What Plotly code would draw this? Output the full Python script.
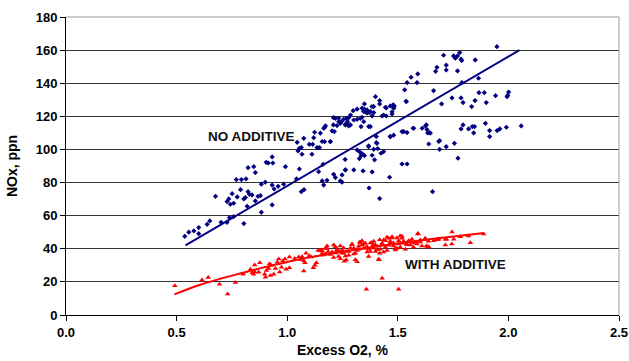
import plotly.graph_objects as go

# ---- data ----
blue_pts = [
(0.537,47.5),(0.555,50.0),(0.578,50.8),(0.600,52.8),(0.600,49.1),(0.638,54.8),(0.650,56.8),(0.676,71.7),
(0.701,56.0),(0.728,56.0),(0.736,70.1),(0.728,68.5),(0.743,66.9),(0.751,73.3),(0.758,67.5),(0.774,71.3),
(0.770,81.8),(0.793,81.8),(0.814,82.2),(0.823,89.0),(0.849,89.6),(0.856,86.0),(0.789,75.7),(0.804,70.1),
(0.811,70.9),(0.823,74.5),(0.829,72.9),(0.819,65.7),(0.841,72.5),(0.856,68.9),(0.868,71.7),(0.879,72.1),
(0.883,79.0),(0.901,80.2),(0.905,92.2),(0.914,91.8),(0.932,95.5),(0.935,91.8),(0.932,78.5),(0.941,76.1),
(0.959,77.7),(0.984,79.0),(0.992,89.6),(0.883,62.0),(0.804,55.2),(0.932,66.5),(0.739,58.8),(0.758,59.4),
(1.042,82.2),(1.055,88.2),(1.064,74.5),(1.076,75.7),(1.045,104.3),(1.055,100.7),(1.064,101.1),(1.067,97.1),
(1.049,99.1),(1.075,106.7),(1.100,103.1),(1.112,97.1),(1.115,103.1),(1.120,107.1),(1.124,110.4),(1.135,101.1),
(1.146,101.1),(1.142,86.6),(1.162,91.0),(1.158,81.0),(1.165,78.5),(1.180,81.4),(1.169,113.2),(1.169,104.7),
(1.195,104.7),(1.203,111.2),(1.209,114.8),(1.210,85.0),(1.218,83.0),(1.225,114.4),(1.240,81.0),(1.248,84.6),
(1.263,87.6),(1.209,119.2),(1.218,118.8),(1.233,118.8),(1.245,116.8),(1.255,118.2),(1.263,115.2),(1.270,115.8),
(1.278,119.2),
(1.948,162.1),(1.707,156.9),(1.752,156.5),(1.760,155.1),(1.780,158.5),(1.770,156.5),(1.786,154.5),(1.789,153.7),
(1.850,154.1),(1.677,149.6),(1.671,147.2),(1.719,150.9),(1.719,148.0),(1.770,147.4),(1.590,145.6),(1.560,143.6),
(1.542,140.4),(1.587,140.4),(1.865,143.0),(1.790,140.4),(1.531,136.0),(1.537,129.1),(1.662,135.5),(1.698,127.5),
(1.745,131.1),(1.786,131.1),(1.795,128.3),(1.834,125.9),(1.849,129.5),(1.867,134.3),(1.891,134.3),(1.900,128.3),
(1.942,132.5),(1.994,131.9),(2.001,134.7),(1.997,132.7),(1.399,131.9),(1.418,129.5),(1.418,127.5),(1.448,125.1),
(1.478,125.9),(1.484,126.3),(1.474,122.7),(1.448,120.2),(1.429,120.2),(1.349,127.5),(1.349,124.3),(1.345,123.0),
(1.355,122.5),(1.362,122.0),(1.376,122.9),(1.384,120.2),(1.391,125.9),(1.316,124.3),(1.298,123.4),(1.286,120.8),
(1.316,118.2),(1.338,119.4),(1.346,116.8),(1.334,113.8),(1.368,113.8),(1.268,118.8),(1.273,116.8),(1.263,114.8),
(1.278,114.2),(1.527,110.8),(1.542,110.2),(1.569,112.8),(1.610,112.8),(1.625,114.2),(1.632,112.0),(1.635,110.0),
(1.786,112.4),(1.795,114.8),(1.820,112.4),(1.837,113.8),(1.847,113.8),(1.843,110.0),(1.896,115.8),(1.915,111.4),
(1.949,111.4),(1.961,112.4),(1.991,113.4),(2.058,114.2),
(1.466,107.8),(1.481,108.6),(1.644,110.1),(1.640,103.3),(1.689,105.3),(1.689,100.1),(1.719,101.7),(1.756,103.7),
(1.772,94.7),(1.915,107.8),(1.368,102.1),(1.403,104.1),(1.409,100.5),(1.391,100.1),(1.384,96.5),(1.395,93.7),
(1.424,97.7),(1.436,98.7),(1.316,99.7),(1.328,98.5),(1.338,97.5),(1.349,96.3),(1.334,96.3),(1.326,94.5),
(1.262,94.0),(1.263,87.6),(1.301,87.6),(1.343,87.0),(1.384,86.4),(1.463,83.2),(1.519,91.2),(1.542,91.2),
(1.248,80.2),(1.370,76.7),(1.418,70.3),(1.657,74.5),
(1.338,124.9),(1.361,123.9),(1.373,122.3),(1.383,125.9),(1.391,122.3),(1.444,125.5),(1.466,126.3),(1.479,126.9),
(1.482,124.9),(1.474,121.4),(1.436,120.8),(1.539,128.9),(1.233,116.8),(1.240,115.8),(1.286,114.8),(1.301,117.8),
(1.331,118.8),(1.376,113.8),(1.173,114.2),(1.165,112.8),(1.213,110.8),(1.150,109.8),(1.158,104.8),(1.195,104.8),
(1.403,107.8),(1.406,103.7),(1.368,101.7),(1.466,107.8),(1.519,110.8),(1.572,112.8),(1.629,114.8),(1.647,109.8),
(1.685,104.8),
]

red_pts = [
(0.492,17.7),(0.615,21.1),(0.643,22.6),(0.694,18.5),(0.731,12.7),(0.766,19.7),(0.801,24.6),
(0.834,27.6),(0.842,25.5),(0.848,24.6),(0.853,26.0),(0.853,30.2),(0.876,31.6),(0.871,25.8),(0.898,24.6),
(0.902,22.8),(0.906,26.9),(0.916,28.1),(0.924,23.8),(0.920,31.0),(0.929,30.0),(0.939,24.6),(0.947,28.1),
(0.955,31.8),(0.962,33.8),(0.966,26.0),(0.974,28.9),(0.980,32.6),(0.990,33.8),(0.995,27.7),
(1.010,35.0),(1.010,28.6),(1.034,34.2),(1.052,35.0),(1.060,33.5),(1.067,35.2),(1.075,32.8),(1.080,31.5),
(1.075,26.6),(1.085,37.3),(1.100,35.8),(1.108,35.0),(1.118,28.5),(1.125,30.0),(1.132,31.5),(1.140,39.0),
(1.157,39.3),(1.157,36.8),(1.165,36.3),(1.185,38.3),(1.150,38.9),(1.173,40.3),(1.180,41.7),
(1.210,42.3),(1.218,41.3),(1.225,39.7),(1.233,38.3),(1.240,41.7),(1.248,39.3),(1.255,37.3),(1.263,35.6),
(1.267,33.2),(1.278,38.3),(1.293,42.9),(1.301,40.3),(1.316,32.2),(1.308,37.3),(1.323,39.7),(1.331,43.7),
(1.338,42.3),(1.346,40.3),(1.353,43.3),(1.361,41.3),(1.368,39.7),(1.376,38.3),(1.383,43.7),(1.388,42.3),
(1.391,40.3),(1.399,38.3),(1.406,41.7),(1.414,33.6),(1.418,37.3),(1.421,39.7),(1.429,43.3),(1.436,45.3),
(1.444,40.9),(1.451,38.9),(1.459,46.3),(1.466,43.7),(1.474,47.3),(1.481,41.7),(1.489,39.3),(1.496,40.3),
(1.504,44.9),(1.511,47.7),(1.519,46.3),(1.526,43.3),(1.534,39.7),(1.541,42.9),(1.549,44.9),(1.557,42.3),
(1.564,45.7),(1.571,40.9),(1.579,44.1),(1.587,42.9),(1.591,49.3),(1.602,45.3),(1.609,41.7),(1.624,46.3),
(1.629,41.7),(1.640,41.3),(1.662,44.9),(1.685,45.7),(1.715,45.7),(1.715,42.3),(1.745,50.1),(1.753,45.7),
(1.783,47.3),(1.820,47.7),(1.828,43.7),(1.888,48.9),(1.680,45.7),(1.720,45.7),(1.744,42.9),(1.635,40.9),
(1.429,22.2),(1.358,15.5),(1.504,15.5),
(1.158,38.5),(1.173,36.9),(1.180,40.1),(1.195,36.5),(1.203,38.1),(1.210,34.8),(1.218,37.5),(1.225,38.9),
(1.233,35.4),(1.240,34.0),(1.248,37.5),(1.255,40.5),(1.258,32.4),(1.270,38.5),(1.278,36.1),(1.286,40.5),
(1.293,42.5),(1.301,36.9),(1.308,33.4),(1.316,38.9),(1.323,41.5),(1.328,44.1),(1.338,44.9),(1.346,42.9),
(1.353,40.5),(1.361,38.1),(1.368,35.4),(1.376,43.5),(1.383,40.9),(1.391,44.5),(1.398,42.5),(1.406,39.5),
(1.414,33.4),(1.418,45.5),(1.429,42.9),(1.436,38.1),(1.444,44.9),(1.451,46.9),(1.459,42.1),(1.466,44.5),
(1.474,46.5),(1.481,43.5),(1.489,40.1),(1.496,46.5),(1.504,42.9),(1.511,40.9),(1.519,47.5),(1.526,44.5),
(1.541,42.5),(1.557,44.5),(1.571,43.5),(1.591,48.9),(1.602,44.1),(1.624,45.5),(1.639,44.5),(1.677,45.5),
]

# trend lines
blue_fit_x = [0.54, 2.05]
blue_fit_y = [42, 160]
red_fit_x = [0.49, 0.6, 0.7, 0.8, 0.9, 1.0, 1.1, 1.2, 1.3, 1.4, 1.5, 1.6, 1.7, 1.8, 1.89]
red_fit_y = [12.5, 18, 22, 25.5, 29, 32, 34.8, 37.1, 39.3, 41.3, 43.2, 45, 46.6, 48.2, 49.5]

x_ticks = [0.0, 0.5, 1.0, 1.5, 2.0, 2.5]
x_tick_labels = ["0.0", "0.5", "1.0", "1.5", "2.0", "2.5"]
y_ticks = [0, 20, 40, 60, 80, 100, 120, 140, 160, 180]

NAVY = "#000080"
RED = "#FF0000"
FONT = "Liberation Sans, Arial, sans-serif"

fig = go.Figure()
fig.add_trace(go.Scatter(x=[p[0] for p in blue_pts], y=[p[1] for p in blue_pts], mode="markers",
                         marker=dict(symbol="diamond", size=4, color=NAVY), showlegend=False))
fig.add_trace(go.Scatter(x=[p[0] for p in red_pts], y=[p[1] for p in red_pts], mode="markers",
                         marker=dict(symbol="triangle-up", size=5, color=RED), showlegend=False))
fig.add_trace(go.Scatter(x=blue_fit_x, y=blue_fit_y, mode="lines",
                         line=dict(color=NAVY, width=2), showlegend=False))
fig.add_trace(go.Scatter(x=red_fit_x, y=red_fit_y, mode="lines", line_shape="spline",
                         line=dict(color=RED, width=2), showlegend=False))

fig.add_annotation(x=0.84, y=108, text="<b>NO ADDITIVE</b>", showarrow=False,
                   font=dict(family=FONT, size=13.5, color="#111111"))
fig.add_annotation(x=1.76, y=30.3, text="<b>WITH ADDITIVE</b>", showarrow=False,
                   font=dict(family=FONT, size=13.5, color="#111111"))

# gray frame on top and right
fig.add_shape(type="line", xref="paper", yref="paper", x0=0, x1=1, y0=1, y1=1,
              line=dict(color="#999999", width=1), layer="above")
fig.add_shape(type="line", xref="paper", yref="paper", x0=1, x1=1, y0=0, y1=1,
              line=dict(color="#999999", width=1), layer="above")

fig.update_layout(
    width=629, height=361,
    margin=dict(l=66, r=10, t=17, b=46, autoexpand=False),
    paper_bgcolor="white", plot_bgcolor="white",
    font=dict(family=FONT, size=13, color="black"),
    xaxis=dict(range=[0, 2.5], tickvals=x_ticks, ticktext=["<b>%s</b>" % t for t in x_tick_labels],
               showgrid=False, zeroline=False, showline=True, linecolor="black", linewidth=1,
               ticks="outside", ticklen=5, tickcolor="black", automargin=False,
               tickfont=dict(size=13),
               title=dict(text="<b>Excess O2, %</b>", font=dict(size=14), standoff=6)),
    yaxis=dict(range=[0, 180], tickvals=y_ticks, ticktext=["<b>%d</b>" % v for v in y_ticks],
               showgrid=True, gridcolor="#333333", gridwidth=1, zeroline=False,
               showline=True, linecolor="black", linewidth=1,
               ticks="outside", ticklen=5, tickcolor="black", automargin=False,
               tickfont=dict(size=13),
               title=dict(text="<b>NOx, ppn</b>", font=dict(size=14), standoff=14)),
)

# remove the page's default body margin so the figure sits at the window origin
fig.write_html("out.html", config={"displayModeBar": False},
               post_script="document.body.style.margin='0px';")
